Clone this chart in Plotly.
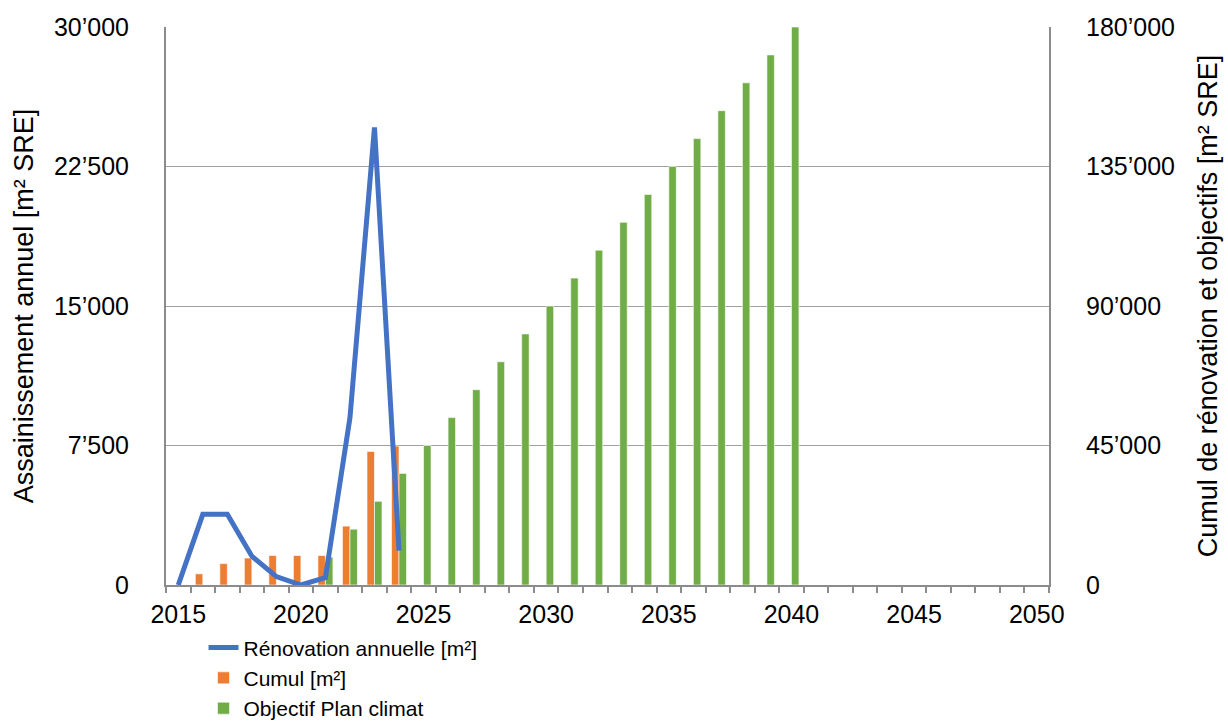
import plotly.graph_objects as go

# Annual renovated floor area (left axis)
renovation_years = [2015, 2016, 2017, 2018, 2019, 2020, 2021, 2022, 2023, 2024]
renovation_annuelle = [0, 3800, 3800, 1550, 450, 0, 400, 9000, 24600, 1850]

# Cumulated renovation (right axis)
cumul_years = [2016, 2017, 2018, 2019, 2020, 2021, 2022, 2023, 2024]
cumul = [3600, 6900, 8700, 9500, 9500, 9500, 19000, 43100, 44800]

# Climate plan target (right axis)
objectif_years = [2021, 2022, 2023, 2024, 2025, 2026, 2027, 2028, 2029, 2030,
                  2031, 2032, 2033, 2034, 2035, 2036, 2037, 2038, 2039, 2040]
objectif = [9000, 18000, 27000, 36000, 45000, 54000, 63000, 72000, 81000, 90000,
            99000, 108000, 117000, 126000, 135000, 144000, 153000, 162000, 171000, 180000]

# Axis ticks
x_label_years = [2015, 2020, 2025, 2030, 2035, 2040, 2045, 2050]
left_tickvals = [0, 7500, 15000, 22500, 30000]
left_ticktext = ["0", "7’500", "15’000", "22’500", "30’000"]
right_tickvals = [0, 45000, 90000, 135000, 180000]
right_ticktext = ["0", "45’000", "90’000", "135’000", "180’000"]

FONT = "Liberation Sans, Arial, sans-serif"
AXIS_GREY = "#8c8c8c"
GRID_GREY = "#a0a0a0"
BLUE = "#4472C4"
ORANGE = "#ED7D31"
GREEN = "#70AD47"

fig = go.Figure()

fig.add_trace(go.Scatter(
    x=renovation_years, y=renovation_annuelle, mode="lines",
    name="Rénovation annuelle [m²]",
    line=dict(color=BLUE, width=5),
    yaxis="y2",
))
fig.add_trace(go.Bar(
    x=cumul_years, y=cumul, name="Cumul [m²]",
    marker=dict(color=ORANGE, line=dict(color="rgba(255,255,255,0.6)", width=1)),
))
fig.add_trace(go.Bar(
    x=objectif_years, y=objectif, name="Objectif Plan climat",
    marker=dict(color=GREEN, line=dict(color="rgba(255,255,255,0.6)", width=1)),
))

fig.update_layout(
    width=1228, height=725,
    margin=dict(l=166, r=179, t=27, b=140, autoexpand=False),
    paper_bgcolor="white", plot_bgcolor="white",
    font=dict(family=FONT, color="#000000", size=25),
    barmode="group", bargap=0.39, bargroupgap=0,
    showlegend=True,
    legend=dict(
        x=0.0425, y=-0.076, xanchor="left", yanchor="top",
        orientation="v", bgcolor="rgba(0,0,0,0)",
        font=dict(family=FONT, size=21, color="#000000"),
        tracegroupgap=0,
    ),
    xaxis=dict(
        range=[2014.5, 2050.5],
        tickmode="array", tickvals=x_label_years,
        ticks="", showgrid=False, zeroline=False,
        showline=True, linecolor=AXIS_GREY, linewidth=2,
        tickfont=dict(size=25), tickangle=0,
        ticklabelstandoff=6,
        minor=dict(tickmode="linear", tick0=2014.5, dtick=1,
                   ticks="outside", ticklen=6, tickwidth=2,
                   tickcolor=AXIS_GREY, showgrid=False),
    ),
    yaxis=dict(
        side="right", range=[0, 180000],
        tickmode="array", tickvals=right_tickvals, ticktext=right_ticktext,
        ticks="", showgrid=True, gridcolor=GRID_GREY, gridwidth=1.3,
        zeroline=False, showline=True, linecolor=AXIS_GREY, linewidth=2,
        tickfont=dict(size=25), ticklabelstandoff=30,
        title=dict(text="Cumul de rénovation et objectifs [m² SRE]",
                   font=dict(size=27), standoff=24),
    ),
    yaxis2=dict(
        overlaying="y", side="left", range=[0, 30000],
        tickmode="array", tickvals=left_tickvals, ticktext=left_ticktext,
        ticks="", showgrid=False, zeroline=False,
        showline=True, linecolor=AXIS_GREY, linewidth=2,
        tickfont=dict(size=25), ticklabelstandoff=30,
        title=dict(text="Assainissement annuel [m² SRE]",
                   font=dict(size=27), standoff=12),
    ),
)

fig.write_html("out.html")
